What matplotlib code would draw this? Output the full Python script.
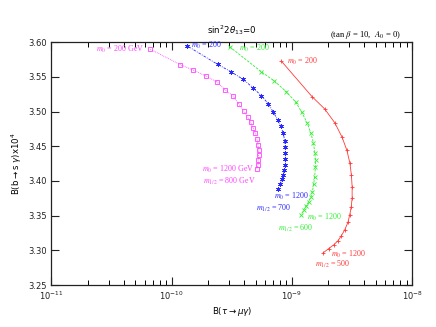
import matplotlib
matplotlib.use("Agg")
import matplotlib.pyplot as plt
from matplotlib.ticker import LogLocator, LogFormatterMathtext, FixedLocator, FormatStrFormatter, NullFormatter

# ---- data ----
mag_x = [6.65e-11, 1.184e-10, 1.519e-10, 1.928e-10, 2.381e-10, 2.791e-10, 3.236e-10, 3.637e-10,
         4.02e-10, 4.30e-10, 4.537e-10, 4.76e-10, 4.965e-10, 5.13e-10, 5.23e-10, 5.29e-10,
         5.29e-10, 5.26e-10, 5.23e-10, 5.09e-10]
mag_y = [3.5899, 3.5677, 3.5597, 3.5514, 3.5428, 3.5313, 3.5226, 3.5104, 3.5003, 3.4924,
         3.4844, 3.4765, 3.4686, 3.4602, 3.4520, 3.4448, 3.4376, 3.4304, 3.4232, 3.4167]

blu_x = [1.339e-10, 2.408e-10, 3.114e-10, 3.921e-10, 4.75e-10, 5.57e-10, 6.394e-10, 6.97e-10,
         7.615e-10, 8.095e-10, 8.50e-10, 8.71e-10, 8.83e-10, 8.83e-10, 8.83e-10, 8.83e-10,
         8.66e-10, 8.45e-10, 8.28e-10, 8.02e-10, 7.645e-10]
blu_y = [3.5951, 3.5683, 3.5576, 3.5467, 3.5346, 3.5230, 3.5111, 3.5000, 3.4885, 3.4787,
         3.4686, 3.4582, 3.4495, 3.4400, 3.4314, 3.4232, 3.4160, 3.4087, 3.4025, 3.3958, 3.3880]

grn_x = [3.031e-10, 5.57e-10, 7.148e-10, 9.00e-10, 1.080e-9, 1.212e-9, 1.339e-9, 1.440e-9,
         1.511e-9, 1.555e-9, 1.576e-9, 1.570e-9, 1.549e-9, 1.520e-9, 1.482e-9, 1.445e-9,
         1.380e-9, 1.321e-9, 1.254e-9, 1.189e-9]
grn_y = [3.5937, 3.5576, 3.5442, 3.5288, 3.5135, 3.4988, 3.4841, 3.4693, 3.4553, 3.4405,
         3.4296, 3.4195, 3.4063, 3.3953, 3.3847, 3.3775, 3.3703, 3.3641, 3.3583, 3.3504]

red_x = [8.175e-10, 1.474e-9, 1.877e-9, 2.274e-9, 2.620e-9, 2.873e-9, 3.043e-9, 3.132e-9,
         3.175e-9, 3.175e-9, 3.120e-9, 3.031e-9, 2.928e-9, 2.754e-9, 2.585e-9, 2.427e-9,
         2.230e-9, 2.026e-9, 1.820e-9]
red_y = [3.5730, 3.5216, 3.5039, 3.4841, 3.4631, 3.4441, 3.4256, 3.4081, 3.3915, 3.3756,
         3.3626, 3.3511, 3.3403, 3.3295, 3.3212, 3.3141, 3.3079, 3.3025, 3.2963]

yticks = [3.25, 3.30, 3.35, 3.40, 3.45, 3.50, 3.55, 3.60]

C_MAG = "#ff44ff"
C_BLU = "#2a2aff"
C_GRN = "#33ee33"
C_RED = "#ff3a3a"

fig = plt.figure(figsize=(4.36, 3.27), dpi=100)
ax = fig.add_axes([0.118, 0.1284, 0.827, 0.7422])

ax.plot(mag_x, mag_y, color=C_MAG, lw=0.6, ls=(0, (1, 1.2)), marker='s', ms=2.8,
        mfc='none', mec=C_MAG, mew=0.6)
ax.plot(blu_x, blu_y, color=C_BLU, lw=0.6, ls=(0, (1, 1.5, 3, 1.5)), marker=(6, 2, 0), ms=3.4,
        mec=C_BLU, mew=0.55)
ax.plot(grn_x, grn_y, color=C_GRN, lw=0.6, ls=(0, (3, 1.5)), marker='x', ms=3.0,
        mec=C_GRN, mew=0.6)
ax.plot(red_x, red_y, color=C_RED, lw=0.6, ls='-', marker='+', ms=3.4,
        mec=C_RED, mew=0.6)

ax.set_xscale('log')
ax.set_xlim(1e-11, 1e-8)
ax.set_ylim(3.25, 3.60)

ax.xaxis.set_major_locator(FixedLocator([1e-11, 1e-10, 1e-9, 1e-8]))
ax.xaxis.set_minor_locator(LogLocator(base=10, subs=range(2, 10), numticks=50))
ax.xaxis.set_major_formatter(LogFormatterMathtext())
ax.xaxis.set_minor_formatter(NullFormatter())
ax.yaxis.set_major_locator(FixedLocator(yticks))
ax.yaxis.set_major_formatter(FormatStrFormatter('%.2f'))

ax.tick_params(which='major', direction='in', length=6, width=0.8, top=True, right=True,
               labelsize=6, colors='#222222', pad=3.5)
ax.tick_params(which='minor', direction='in', length=3.5, width=0.7, top=True, right=True)
for s in ax.spines.values():
    s.set_linewidth(0.9)
    s.set_color('#222222')

ax.set_xlabel(r'B($\tau\rightarrow\mu\gamma$)', fontsize=6.2, labelpad=2,
              math_fontfamily='dejavusans')
ax.set_ylabel(r'B(b$\rightarrow$s $\gamma$)x10$^4$', fontsize=6.2, labelpad=3,
              math_fontfamily='dejavusans')

fig.text(0.532, 0.908, r'sin$^2$2$\theta_{13}$=0', ha='center', va='center', fontsize=6.2,
         math_fontfamily='dejavusans')
fig.text(0.92, 0.893, r'(tan $\beta$ = 10,  $A_0$ = 0)', ha='right', va='center', fontsize=6.2,
         family='Liberation Serif', math_fontfamily='stix')

def lab(xy, txt, off, col, ha='left'):
    ax.annotate(txt, xy=xy, xytext=off, textcoords='offset pixels', ha=ha, va='center',
                fontsize=5.8, color=col, family='Liberation Serif', math_fontfamily='stix')

lab((mag_x[0], mag_y[0]), r'$m_0$ = 200 GeV', (-6, 0), C_MAG, 'right')
lab((mag_x[-1], mag_y[-1]), r'$m_0$ = 1200 GeV', (-2, 0), C_MAG, 'right')
lab((mag_x[-1], mag_y[-1]), r'$m_{1/2}$ = 800 GeV', (-1, -12), C_MAG, 'right')

lab((blu_x[0], blu_y[0]), r'$m_0$ = 200', (4, 0), C_BLU)
lab((blu_x[-1], blu_y[-1]), r'$m_0$ = 1200', (-3.5, -7.5), C_BLU)
lab((blu_x[-1], blu_y[-1]), r'$m_{1/2}$ = 700', (-22, -19), C_BLU)

lab((grn_x[0], grn_y[0]), r'$m_0$ = 200', (9, -1.5), C_GRN)
lab((grn_x[-1], grn_y[-1]), r'$m_0$ = 1200', (6.5, -2.5), C_GRN)
lab((grn_x[-1], grn_y[-1]), r'$m_{1/2}$ = 600', (-22.5, -13.5), C_GRN)

lab((red_x[0], red_y[0]), r'$m_0$ = 200', (6, 0), C_RED)
lab((red_x[-1], red_y[-1]), r'$m_0$ = 1200', (8, -1.3), C_RED)
lab((red_x[-1], red_y[-1]), r'$m_{1/2}$ = 500', (-7.7, -11), C_RED)

fig.savefig('out.png', dpi=100)
